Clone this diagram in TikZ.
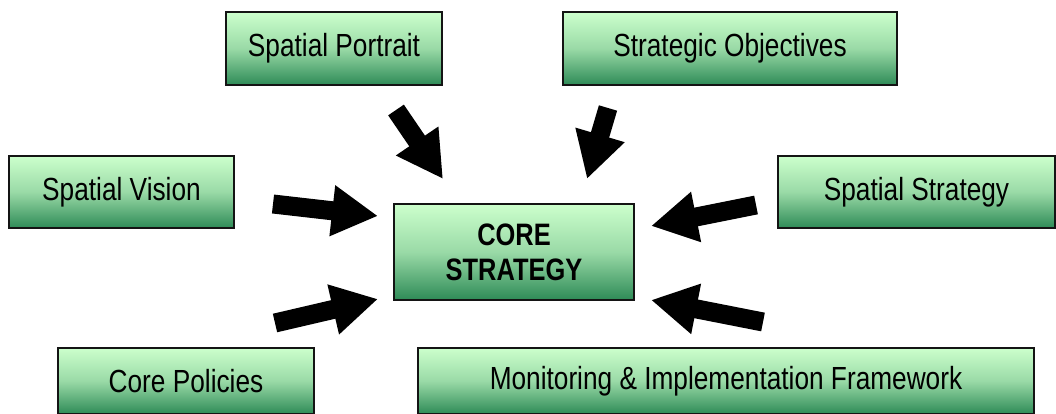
\documentclass[tikz,border=0pt]{standalone}
\usepackage{fontspec}
\setmainfont[FakeStretch=0.82]{Liberation Sans}
\usetikzlibrary{arrows.meta}
\definecolor{boxtop}{RGB}{204,255,204}
\definecolor{boxbot}{RGB}{46,139,87}
\definecolor{boxline}{RGB}{20,20,20}
\tikzset{
  box/.style={draw=boxline, line width=1.4pt, top color=boxtop, bottom color=boxbot,
    middle color=boxtop!68!boxbot,
    inner sep=0pt, align=center, font=\fontsize{32}{35}\selectfont},
  blockarrow/.style={line width=19pt, line cap=butt, draw=black,
    -{Triangle[length=46pt,width=48pt]}}
}
\begin{document}
\begin{tikzpicture}[x=1pt,y=-1pt]
\useasboundingbox (0,0) rectangle (1056,414);
\node[box, minimum width=216pt, minimum height=73pt] (portrait) at (334,48.5) {Spatial Portrait};
\node[box, minimum width=334pt, minimum height=73pt] (objectives) at (730,48.5) {Strategic Objectives};
\node[box, minimum width=225pt, minimum height=72pt] (vision) at (121.5,192) {Spatial Vision};
\node[box, minimum width=277pt, minimum height=72pt] (strategy) at (916.5,192) {Spatial Strategy};
\node[box, minimum width=240pt, minimum height=96pt, font=\fontsize{31}{35}\selectfont\bfseries] (core) at (514,252) {CORE\\STRATEGY};
\node[box, minimum width=256pt, minimum height=66pt] (policies) at (186,381) {Core Policies};
\node[box, minimum width=616pt, minimum height=66pt] (monitor) at (726,381) {Monitoring \& Implementation Framework};
\coordinate (t1) at (396,110); \coordinate (h1) at (443,179);
\coordinate (t2) at (608,108); \coordinate (h2) at (587,179);
\coordinate (t3) at (273,204); \coordinate (h3) at (378,216);
\coordinate (t4) at (756,205); \coordinate (h4) at (651,226);
\coordinate (t5) at (275,323); \coordinate (h5) at (378,299);
\coordinate (t6) at (763,322); \coordinate (h6) at (651,300);
\foreach \i in {1,...,6} \draw[blockarrow] (t\i) -- (h\i);
\end{tikzpicture}
\end{document}
